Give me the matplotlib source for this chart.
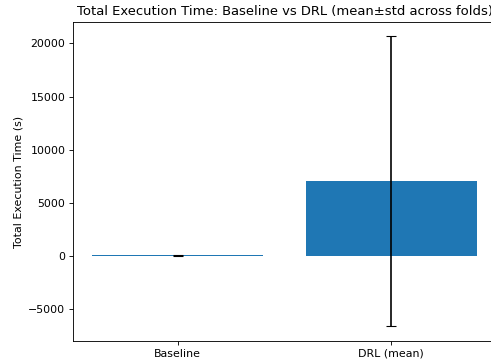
import matplotlib
matplotlib.use("Agg")
import matplotlib.pyplot as plt

# values
labels = ["Baseline", "DRL (mean)"]
means = [60, 7000]
stds = [30, 13650]

DPI = 79
fig = plt.figure(figsize=(491 / DPI, 364 / DPI), dpi=DPI)
# axes runs a bit past the right edge, as in the reference (cropped figure)
ax = fig.add_axes([0.1487, 0.0632, 0.8615, 0.8764])

ax.bar(labels, means, yerr=stds, capsize=5, color="tab:blue")
ax.set_ylabel("Total Execution Time (s)")
ax.set_title("Total Execution Time: Baseline vs DRL (mean\u00b1std across folds)")

fig.savefig("out.png", dpi=DPI)
